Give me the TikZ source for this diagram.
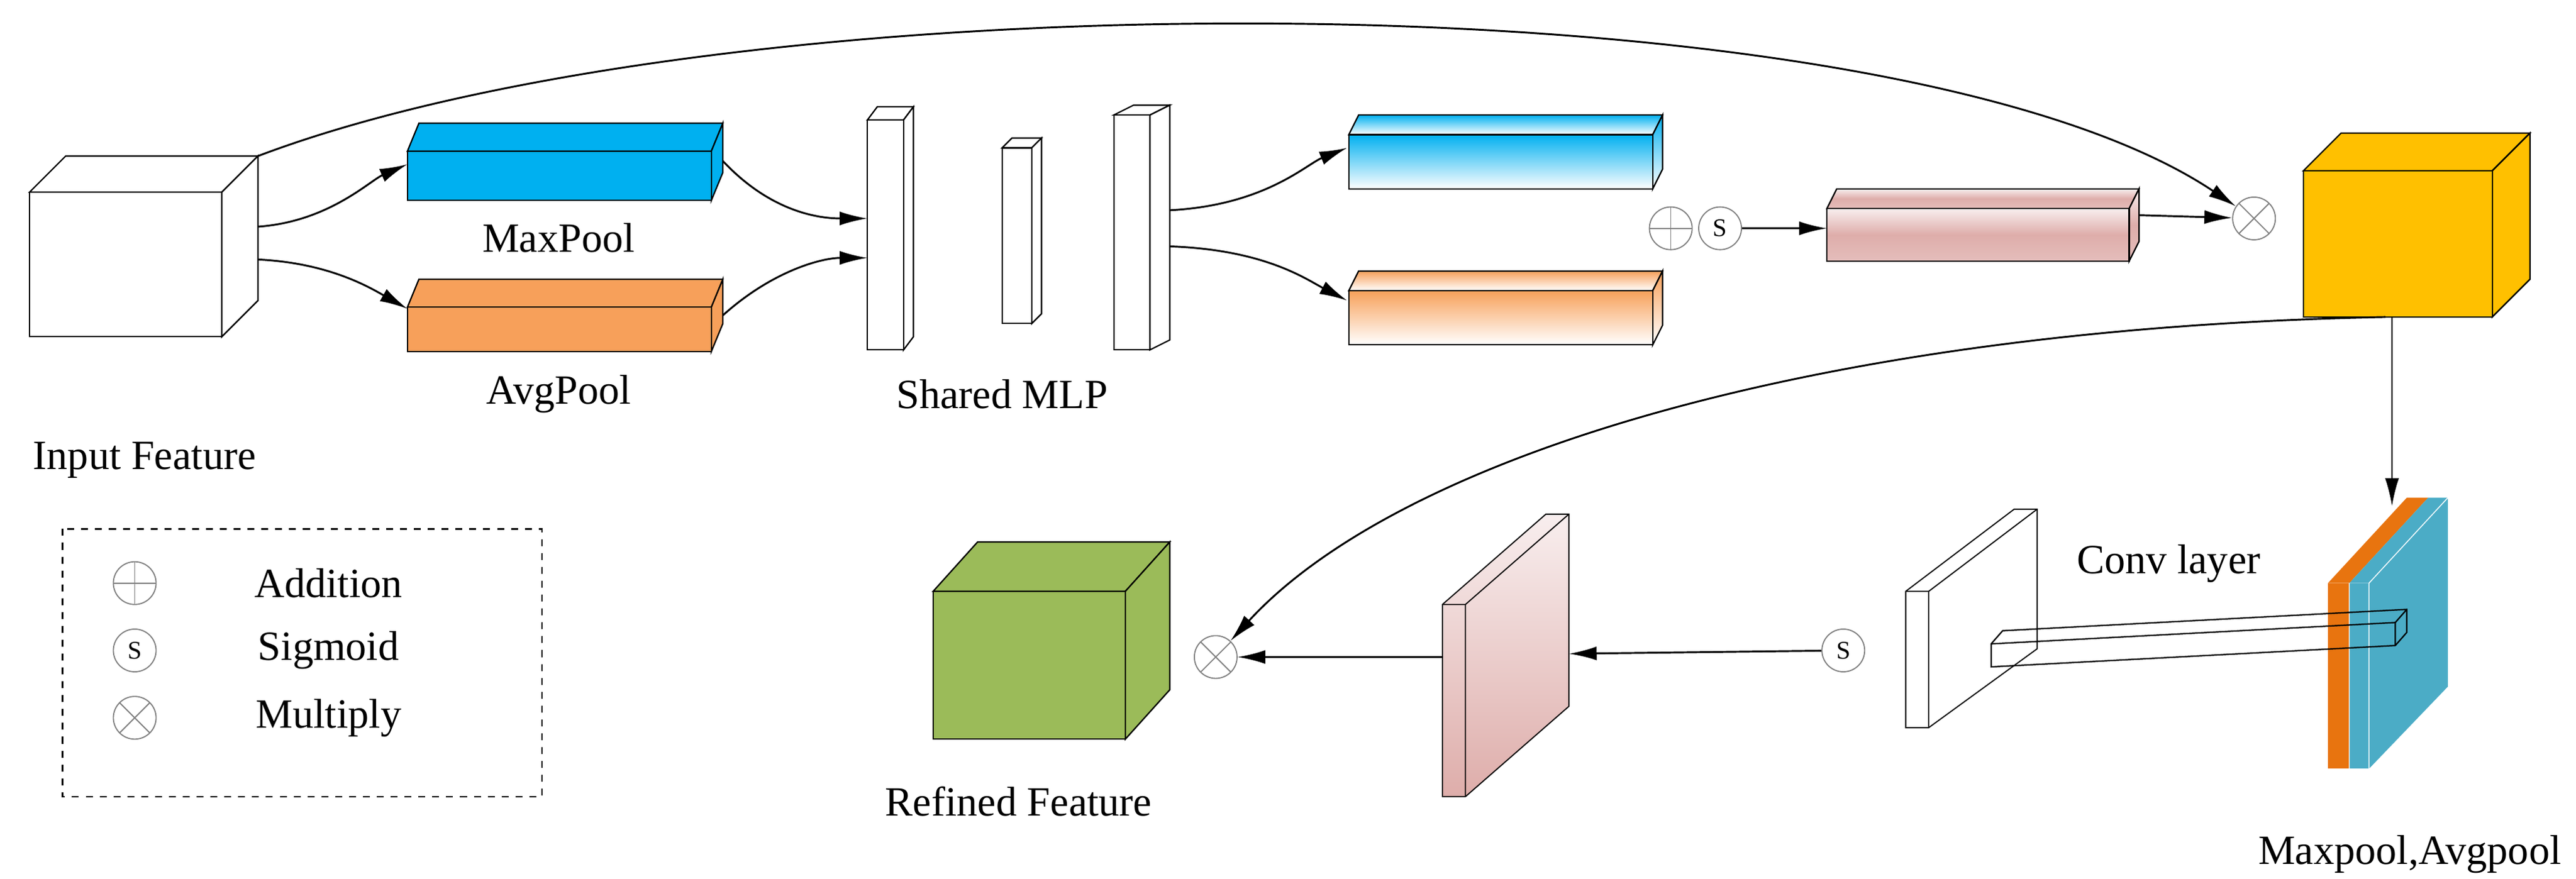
\documentclass[tikz,border=0pt]{standalone}
\usepackage{fontspec}
\setmainfont{Liberation Serif}
\usetikzlibrary{arrows.meta}
\definecolor{cblue}{HTML}{00B0F0}
\definecolor{corange}{HTML}{F7A05A}
\definecolor{cyellow}{HTML}{FFC000}
\definecolor{cgreen}{HTML}{9BBB59}
\definecolor{cpinkA}{HTML}{F8EEEE}
\definecolor{cpinkB}{HTML}{DEADAA}
\definecolor{cslabO}{HTML}{E8740F}
\definecolor{cslabB}{HTML}{4BACC6}
\newcommand{\cub}[7]{%
  \filldraw[#7] (#1,#2) -- (#1+#5,#2+#6) -- (#3+#5,#2+#6) -- (#3,#2) -- cycle;
  \filldraw[#7] (#3,#2) -- (#3+#5,#2+#6) -- (#3+#5,#4+#6) -- (#3,#4) -- cycle;
  \filldraw[#7] (#1,#2) rectangle (#3,#4);}
\tikzset{
  lbl/.style={font=\fontsize{18}{21}\selectfont},
  arr/.style={-{Latex[length=12pt,width=6pt]},line width=0.8pt},
  op/.style={circle,draw=gray,line width=0.5pt,minimum size=0.65cm,inner sep=0pt},
  plus/.style={op,path picture={\draw[gray] (path picture bounding box.north)--(path picture bounding box.south);
     \draw[gray] (path picture bounding box.west)--(path picture bounding box.east);}},
  times/.style={op,path picture={\draw[gray] ([shift={(-0.23cm,0.23cm)}]path picture bounding box.center)--([shift={(0.23cm,-0.23cm)}]path picture bounding box.center);
     \draw[gray] ([shift={(-0.23cm,-0.23cm)}]path picture bounding box.center)--([shift={(0.23cm,0.23cm)}]path picture bounding box.center);}},
  sig/.style={op,font=\fontsize{11}{12}\selectfont},
  box/.style={draw=black,line width=0.6pt}
}
\begin{document}
\begin{tikzpicture}[x=0.025cm,y=-0.025cm]
\useasboundingbox[fill=white] (0,0) rectangle (1568,535);
% input cube
\cub{18}{117}{135}{205}{22}{-22}{box,fill=white}
\coordinate (inTR) at (157,95);
\coordinate (inR1) at (157,138);
\coordinate (inR2) at (157,158);
\node[lbl] at (88,280) {Input Feature};
% pool bars
\cub{248}{92}{433}{122}{7}{-17}{box,fill=cblue}
\cub{248}{187}{433}{214}{7}{-17}{box,fill=corange}
\coordinate (mpL) at (248,100); \coordinate (mpR) at (440,98);
\coordinate (apL) at (248,188); \coordinate (apR) at (440,192);
\node[lbl] at (340,145) {MaxPool};
\node[lbl] at (340,240) {AvgPool};
\draw[arr] (inR1) .. controls (200,135) and (225,110) .. (mpL);
\draw[arr] (inR2) .. controls (200,160) and (225,175) .. (apL);
% MLP
\cub{528}{73}{550}{213}{6}{-8}{box,fill=white}
\cub{610}{90}{628}{197}{6}{-6}{box,fill=white}
\cub{678}{70}{700}{213}{12}{-6}{box,fill=white}
\coordinate (m1a) at (528,133); \coordinate (m1b) at (528,157);
\coordinate (m3a) at (712,128); \coordinate (m3b) at (712,150);
\node[lbl] at (610,240) {Shared MLP};
\draw[arr] (mpR) .. controls (470,130) and (500,133) .. (m1a);
\draw[arr] (apR) .. controls (470,165) and (500,157) .. (m1b);
% gradient bars
\cub{821}{82}{1006}{115}{6}{-12}{box,top color=cblue,bottom color=white}
\cub{821}{177}{1006}{210}{6}{-12}{box,top color=corange,bottom color=white}
\coordinate (gbL) at (820,90); \coordinate (goL) at (820,183);
\draw[arr] (m3a) .. controls (770,125) and (795,100) .. (gbL);
\draw[arr] (m3b) .. controls (770,152) and (795,170) .. (goL);
% ops top
\node[plus] (add1) at (1017,139) {};
\node[sig] (sig1) at (1047,139) {S};
\cub{1112}{127}{1296}{159}{6}{-12}{box,top color=cpinkA,bottom color=cpinkB!80!white,middle color=cpinkB}
\coordinate (pkL) at (1112,139); \coordinate (pkR) at (1302,131);
\node[times] (mul1) at (1372,133) {};
\draw[arr] (sig1) -- (pkL);
\draw[arr] (pkR) -- (mul1);
\draw[arr] (inTR) .. controls (450,-16) and (1150,-16) .. (mul1);
% yellow cube
\cub{1402}{104}{1517}{193}{23}{-23}{box,fill=cyellow}
\coordinate (yB) at (1456,193); \coordinate (yB2) at (1452,193);
% slab
\filldraw[fill=cslabO,draw=none] (1417,355) -- (1465,303) -- (1478,303) -- (1430,355) -- cycle;
\fill[cslabO] (1417,355) rectangle (1430,468);
\filldraw[fill=cslabB,draw=none] (1430,355) -- (1478,303) -- (1490,303) -- (1490,418) -- (1442,468) -- (1442,355) -- cycle;
\fill[cslabB] (1430,355) rectangle (1442,468);
\draw[white,line width=0.4pt] (1442,355) -- (1490,303) (1442,355) -- (1442,468) (1430,355)--(1430,468);
\coordinate (slabT) at (1456,308);
\draw[-{Latex[length=12pt,width=6pt]},line width=0.5pt] (yB) -- (slabT);
\node[lbl] at (1320,343) {Conv layer};
\node[lbl,anchor=east] at (1564,520) {Maxpool,Avgpool};
% white panel
\draw[line width=0.5pt,fill=white] (1160,360) -- (1226,310) -- (1240,310) -- (1240,395) -- (1174,443) -- (1160,443) -- cycle;
\draw[line width=0.5pt] (1160,360) -- (1174,360) -- (1240,310) (1174,360) -- (1174,443);
% conv beam
\draw[line width=0.6pt] (1212,392) -- (1219,384) -- (1465,371) -- (1465,385) -- (1458,393) -- (1212,406) -- cycle;
\draw[line width=0.6pt] (1212,392) -- (1458,379) -- (1465,371) (1458,379) -- (1458,393);
% S lower
\node[sig] (sig2) at (1122,396) {S};
% pink panel
\shade[top color=cpinkA,bottom color=cpinkB] (878,368) -- (941,313) -- (955,313) -- (955,430) -- (892,485) -- (878,485) -- cycle;
\draw[line width=0.5pt] (878,368) -- (941,313) -- (955,313) -- (955,430) -- (892,485) -- (878,485) -- cycle;
\draw[line width=0.5pt] (878,368) -- (892,368) -- (955,313) (892,368) -- (892,485);
\coordinate (ppR) at (955,398); \coordinate (ppL) at (878,400);
\draw[arr] (sig2) -- (ppR);
\node[times] (mul2) at (740,400) {};
\draw[arr] (ppL) -- (mul2);
\draw[arr] (yB2) .. controls (1100,200) and (850,280) .. (mul2);
% green cube
\cub{568}{360}{685}{450}{27}{-30}{box,fill=cgreen}
\node[lbl] at (620,488) {Refined Feature};
% legend
\draw[dashed,line width=0.6pt] (38,322) rectangle (330,485);
\node[plus] (lg1) at (82,355) {};
\node[sig] (lg2) at (82,396) {S};
\node[times] (lg3) at (82,437) {};
\node[lbl] at (200,355) {Addition};
\node[lbl] at (200,396) {Sigmoid};
\node[lbl] at (200,437) {Multiply};
\end{tikzpicture}
\end{document}
